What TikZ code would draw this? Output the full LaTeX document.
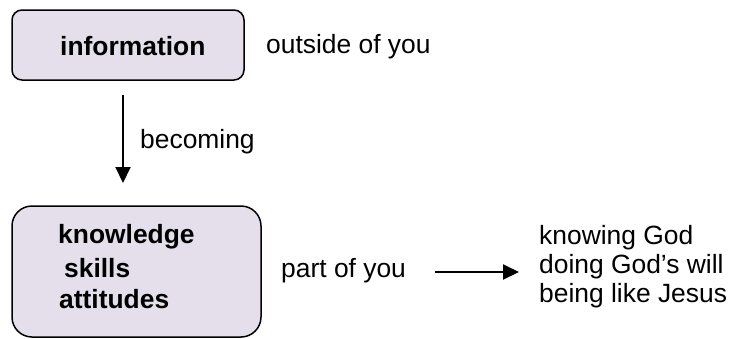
\documentclass[tikz,border=0pt]{standalone}
\usepackage{fontspec}
\setmainfont{Liberation Sans}
\usetikzlibrary{arrows.meta}
\definecolor{boxfill}{HTML}{E5DFEC}
\tikzset{
  x=1pt, y=-1pt,
  box/.style={draw=black, line width=1.5pt, fill=boxfill},
  txt/.style={anchor=base west, inner sep=0pt, font=\fontsize{26.4}{30}\selectfont},
  btxt/.style={txt, font=\fontsize{26.4}{30}\selectfont\bfseries},
  arr/.style={line width=2pt, -{Triangle[length=16pt, width=15pt]}}
}
\begin{document}
\begin{tikzpicture}
\useasboundingbox (0,0) rectangle (730,338);
% boxes
\path[box, rounded corners=10pt] (12,10) rectangle (244,80);
\path[box, rounded corners=20pt] (12,206) rectangle (261,337);
% texts
\node[btxt] (info) at (60,55) {information};
\node[txt] (outside) at (266,53) {outside of you};
\node[txt] (becoming) at (140,148) {becoming};
\node[btxt] (k1) at (58,243) {knowledge};
\node[btxt] (k2) at (64,277) {skills};
\node[btxt] (k3) at (59,308) {attitudes};
\node[txt] (pov) at (281,277) {part of you};
\node[txt] (r1) at (539,244) {knowing God};
\node[txt] (r2) at (539,273) {doing God’s will};
\node[txt] (r3) at (539,302) {being like Jesus};
% arrows
\coordinate (a1s) at (123,95);
\coordinate (a1e) at (123,183);
\coordinate (a2s) at (435,272);
\coordinate (a2e) at (519,272);
\draw[arr] (a1s) -- (a1e);
\draw[arr] (a2s) -- (a2e);
\end{tikzpicture}
\end{document}
